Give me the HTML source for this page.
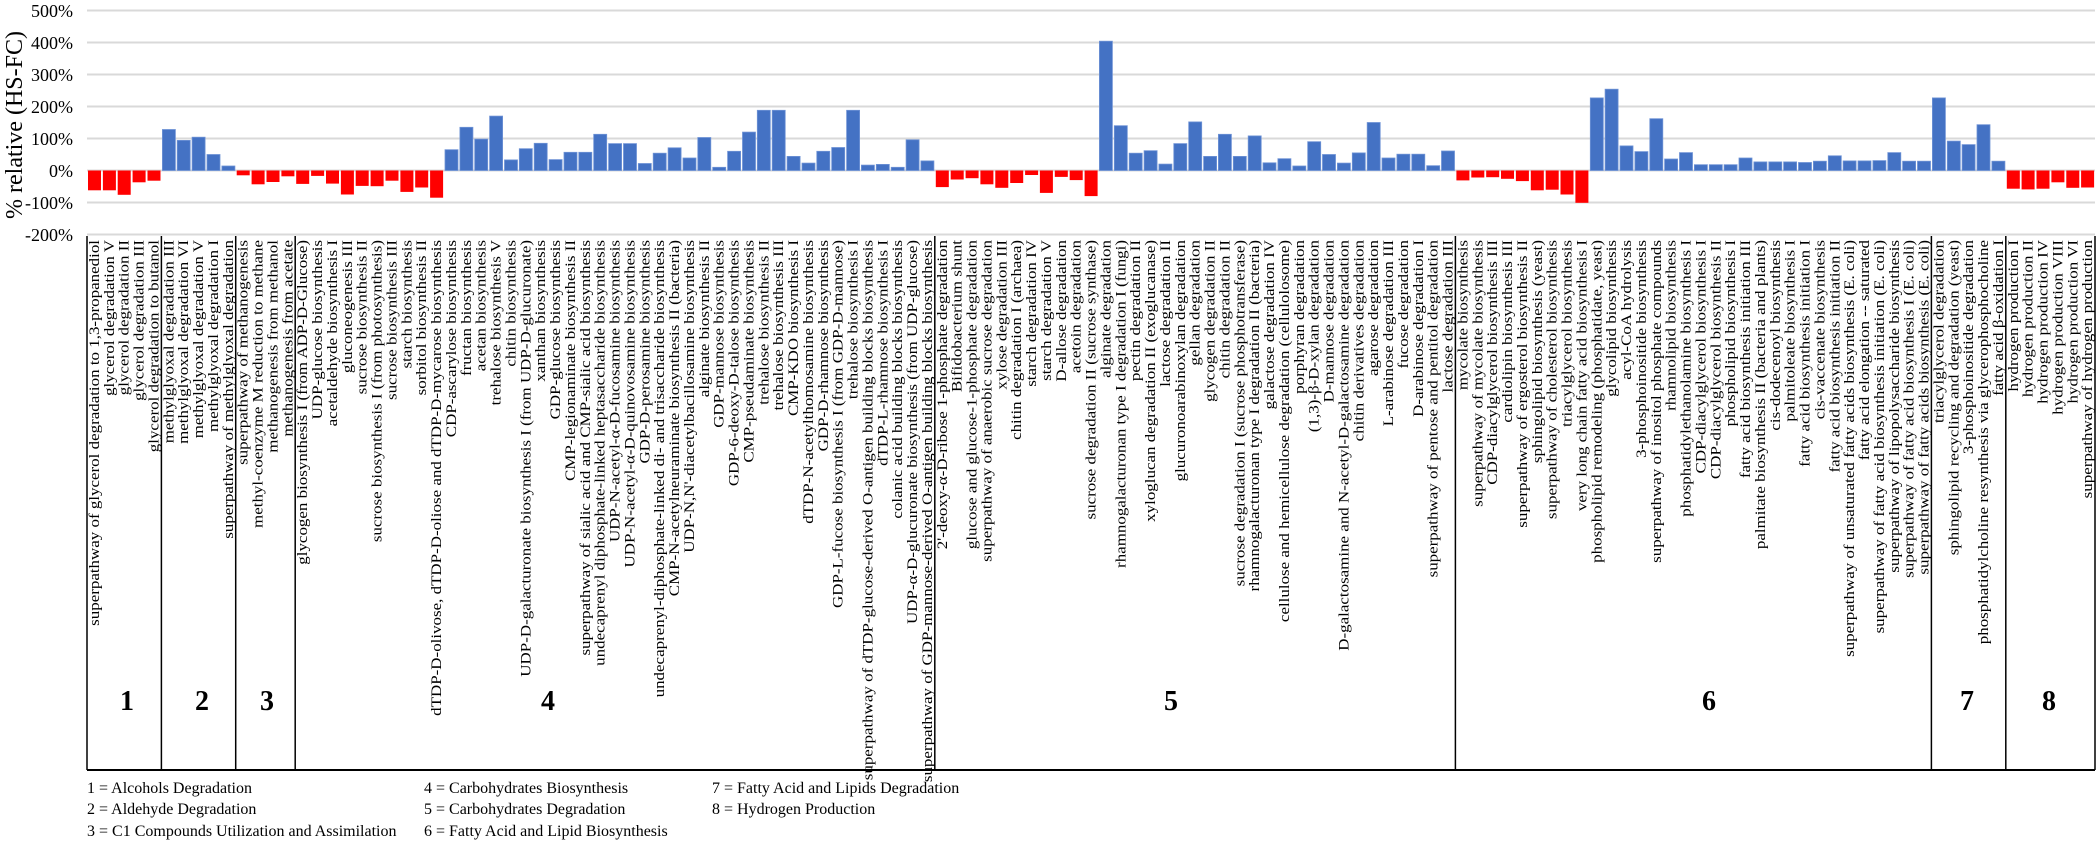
<!DOCTYPE html>
<html><head><meta charset="utf-8"><style>
html,body{margin:0;padding:0;background:#fff;}
svg{display:block;}
text{font-family:"Liberation Serif",serif;fill:#000;}
.l{font-size:15px;}
.b{fill:#4472c4;stroke:#6f93d6;stroke-width:0.8;}
.r{fill:#ff0000;}
</style></head><body>
<svg width="2100" height="842" viewBox="0 0 2100 842" xmlns="http://www.w3.org/2000/svg">
<g stroke="#d9d9d9" stroke-width="2">
<line x1="87" y1="10.5" x2="2095" y2="10.5"/><line x1="87" y1="42.5" x2="2095" y2="42.5"/><line x1="87" y1="74.5" x2="2095" y2="74.5"/><line x1="87" y1="106.5" x2="2095" y2="106.5"/><line x1="87" y1="138.5" x2="2095" y2="138.5"/><line x1="87" y1="170.5" x2="2095" y2="170.5"/><line x1="87" y1="202.5" x2="2095" y2="202.5"/><line x1="87" y1="234.5" x2="2095" y2="234.5"/>
</g>
<g font-size="18" text-anchor="end">
<text x="73" y="17">500%</text><text x="73" y="49">400%</text><text x="73" y="81">300%</text><text x="73" y="113">200%</text><text x="73" y="145">100%</text><text x="73" y="177">0%</text><text x="73" y="209">-100%</text><text x="73" y="241">-200%</text>
</g>
<text transform="translate(22,125) rotate(-90)" font-size="24" text-anchor="middle">% relative (HS-FC)</text>
<g>
<rect class="r" x="88" y="170.5" width="13" height="19.8"/>
<rect class="r" x="102.9" y="170.5" width="13" height="19.8"/>
<rect class="r" x="117.7" y="170.5" width="13" height="24.3"/>
<rect class="r" x="132.6" y="170.5" width="13" height="11.8"/>
<rect class="r" x="147.5" y="170.5" width="13" height="10.2"/>
<rect class="b" x="162.4" y="129.5" width="13" height="41"/>
<rect class="b" x="177.2" y="140.4" width="13" height="30.1"/>
<rect class="b" x="192.1" y="137.2" width="13" height="33.3"/>
<rect class="b" x="207" y="154.5" width="13" height="16"/>
<rect class="b" x="221.9" y="166" width="13" height="4.5"/>
<rect class="r" x="236.7" y="170.5" width="13" height="4.8"/>
<rect class="r" x="251.6" y="170.5" width="13" height="13.8"/>
<rect class="r" x="266.5" y="170.5" width="13" height="11.5"/>
<rect class="r" x="281.4" y="170.5" width="13" height="5.8"/>
<rect class="r" x="296.2" y="170.5" width="13" height="13.4"/>
<rect class="r" x="311.1" y="170.5" width="13" height="5.4"/>
<rect class="r" x="326" y="170.5" width="13" height="13.1"/>
<rect class="r" x="340.9" y="170.5" width="13" height="24"/>
<rect class="r" x="355.7" y="170.5" width="13" height="15.4"/>
<rect class="r" x="370.6" y="170.5" width="13" height="15.7"/>
<rect class="r" x="385.5" y="170.5" width="13" height="10.2"/>
<rect class="r" x="400.4" y="170.5" width="13" height="21.4"/>
<rect class="r" x="415.2" y="170.5" width="13" height="17"/>
<rect class="r" x="430.1" y="170.5" width="13" height="27.2"/>
<rect class="b" x="445" y="149.7" width="13" height="20.8"/>
<rect class="b" x="459.9" y="127.3" width="13" height="43.2"/>
<rect class="b" x="474.7" y="139.1" width="13" height="31.4"/>
<rect class="b" x="489.6" y="116.1" width="13" height="54.4"/>
<rect class="b" x="504.5" y="159.9" width="13" height="10.6"/>
<rect class="b" x="519.3" y="148.7" width="13" height="21.8"/>
<rect class="b" x="534.2" y="143.3" width="13" height="27.2"/>
<rect class="b" x="549.1" y="159.6" width="13" height="10.9"/>
<rect class="b" x="564" y="152.3" width="13" height="18.2"/>
<rect class="b" x="578.8" y="152.3" width="13" height="18.2"/>
<rect class="b" x="593.7" y="134.3" width="13" height="36.2"/>
<rect class="b" x="608.6" y="143.6" width="13" height="26.9"/>
<rect class="b" x="623.5" y="143.6" width="13" height="26.9"/>
<rect class="b" x="638.3" y="163.5" width="13" height="7"/>
<rect class="b" x="653.2" y="153.2" width="13" height="17.3"/>
<rect class="b" x="668.1" y="147.8" width="13" height="22.7"/>
<rect class="b" x="683" y="158" width="13" height="12.5"/>
<rect class="b" x="697.8" y="137.5" width="13" height="33"/>
<rect class="b" x="712.7" y="167.3" width="13" height="3.2"/>
<rect class="b" x="727.6" y="151.3" width="13" height="19.2"/>
<rect class="b" x="742.5" y="132.1" width="13" height="38.4"/>
<rect class="b" x="757.3" y="110.3" width="13" height="60.2"/>
<rect class="b" x="772.2" y="110.3" width="13" height="60.2"/>
<rect class="b" x="787.1" y="156.4" width="13" height="14.1"/>
<rect class="b" x="802" y="163.1" width="13" height="7.4"/>
<rect class="b" x="816.8" y="151.3" width="13" height="19.2"/>
<rect class="b" x="831.7" y="147.5" width="13" height="23"/>
<rect class="b" x="846.6" y="110.3" width="13" height="60.2"/>
<rect class="b" x="861.4" y="165.1" width="13" height="5.4"/>
<rect class="b" x="876.3" y="164.4" width="13" height="6.1"/>
<rect class="b" x="891.2" y="167.3" width="13" height="3.2"/>
<rect class="b" x="906.1" y="139.8" width="13" height="30.7"/>
<rect class="b" x="920.9" y="160.9" width="13" height="9.6"/>
<rect class="r" x="935.8" y="170.5" width="13" height="16.6"/>
<rect class="r" x="950.7" y="170.5" width="13" height="9"/>
<rect class="r" x="965.6" y="170.5" width="13" height="7.7"/>
<rect class="r" x="980.4" y="170.5" width="13" height="13.8"/>
<rect class="r" x="995.3" y="170.5" width="13" height="17.3"/>
<rect class="r" x="1010.2" y="170.5" width="13" height="12.5"/>
<rect class="r" x="1025.1" y="170.5" width="13" height="4.5"/>
<rect class="r" x="1039.9" y="170.5" width="13" height="22.4"/>
<rect class="r" x="1054.8" y="170.5" width="13" height="6.4"/>
<rect class="r" x="1069.7" y="170.5" width="13" height="9.6"/>
<rect class="r" x="1084.6" y="170.5" width="13" height="25.6"/>
<rect class="b" x="1099.4" y="41.2" width="13" height="129.3"/>
<rect class="b" x="1114.3" y="125.7" width="13" height="44.8"/>
<rect class="b" x="1129.2" y="153.2" width="13" height="17.3"/>
<rect class="b" x="1144.1" y="150.7" width="13" height="19.8"/>
<rect class="b" x="1158.9" y="164.1" width="13" height="6.4"/>
<rect class="b" x="1173.8" y="143.6" width="13" height="26.9"/>
<rect class="b" x="1188.7" y="121.9" width="13" height="48.6"/>
<rect class="b" x="1203.6" y="156.4" width="13" height="14.1"/>
<rect class="b" x="1218.4" y="134.3" width="13" height="36.2"/>
<rect class="b" x="1233.3" y="156.4" width="13" height="14.1"/>
<rect class="b" x="1248.2" y="135.9" width="13" height="34.6"/>
<rect class="b" x="1263" y="162.8" width="13" height="7.7"/>
<rect class="b" x="1277.9" y="158.7" width="13" height="11.8"/>
<rect class="b" x="1292.8" y="166" width="13" height="4.5"/>
<rect class="b" x="1307.7" y="141.7" width="13" height="28.8"/>
<rect class="b" x="1322.5" y="154.5" width="13" height="16"/>
<rect class="b" x="1337.4" y="163.1" width="13" height="7.4"/>
<rect class="b" x="1352.3" y="152.9" width="13" height="17.6"/>
<rect class="b" x="1367.2" y="122.5" width="13" height="48"/>
<rect class="b" x="1382" y="158" width="13" height="12.5"/>
<rect class="b" x="1396.9" y="154.2" width="13" height="16.3"/>
<rect class="b" x="1411.8" y="154.2" width="13" height="16.3"/>
<rect class="b" x="1426.7" y="165.7" width="13" height="4.8"/>
<rect class="b" x="1441.5" y="151" width="13" height="19.5"/>
<rect class="r" x="1456.4" y="170.5" width="13" height="9.9"/>
<rect class="r" x="1471.3" y="170.5" width="13" height="7"/>
<rect class="r" x="1486.2" y="170.5" width="13" height="6.7"/>
<rect class="r" x="1501" y="170.5" width="13" height="8.3"/>
<rect class="r" x="1515.9" y="170.5" width="13" height="10.6"/>
<rect class="r" x="1530.8" y="170.5" width="13" height="19.8"/>
<rect class="r" x="1545.7" y="170.5" width="13" height="19.2"/>
<rect class="r" x="1560.5" y="170.5" width="13" height="24"/>
<rect class="r" x="1575.4" y="170.5" width="13" height="32.3"/>
<rect class="b" x="1590.3" y="97.9" width="13" height="72.6"/>
<rect class="b" x="1605.1" y="89.2" width="13" height="81.3"/>
<rect class="b" x="1620" y="145.9" width="13" height="24.6"/>
<rect class="b" x="1634.9" y="151.6" width="13" height="18.9"/>
<rect class="b" x="1649.8" y="118.7" width="13" height="51.8"/>
<rect class="b" x="1664.6" y="159" width="13" height="11.5"/>
<rect class="b" x="1679.5" y="152.6" width="13" height="17.9"/>
<rect class="b" x="1694.4" y="164.7" width="13" height="5.8"/>
<rect class="b" x="1709.3" y="164.7" width="13" height="5.8"/>
<rect class="b" x="1724.1" y="164.7" width="13" height="5.8"/>
<rect class="b" x="1739" y="158" width="13" height="12.5"/>
<rect class="b" x="1753.9" y="161.9" width="13" height="8.6"/>
<rect class="b" x="1768.8" y="161.9" width="13" height="8.6"/>
<rect class="b" x="1783.6" y="161.9" width="13" height="8.6"/>
<rect class="b" x="1798.5" y="162.5" width="13" height="8"/>
<rect class="b" x="1813.4" y="161.2" width="13" height="9.3"/>
<rect class="b" x="1828.3" y="155.8" width="13" height="14.7"/>
<rect class="b" x="1843.1" y="160.9" width="13" height="9.6"/>
<rect class="b" x="1858" y="160.9" width="13" height="9.6"/>
<rect class="b" x="1872.9" y="160.6" width="13" height="9.9"/>
<rect class="b" x="1887.8" y="152.6" width="13" height="17.9"/>
<rect class="b" x="1902.6" y="161.2" width="13" height="9.3"/>
<rect class="b" x="1917.5" y="161.2" width="13" height="9.3"/>
<rect class="b" x="1932.4" y="97.9" width="13" height="72.6"/>
<rect class="b" x="1947.3" y="141.1" width="13" height="29.4"/>
<rect class="b" x="1962.1" y="144.6" width="13" height="25.9"/>
<rect class="b" x="1977" y="124.7" width="13" height="45.8"/>
<rect class="b" x="1991.9" y="161.2" width="13" height="9.3"/>
<rect class="r" x="2006.8" y="170.5" width="13" height="18.2"/>
<rect class="r" x="2021.6" y="170.5" width="13" height="18.9"/>
<rect class="r" x="2036.5" y="170.5" width="13" height="18.2"/>
<rect class="r" x="2051.4" y="170.5" width="13" height="11.8"/>
<rect class="r" x="2066.3" y="170.5" width="13" height="17.3"/>
<rect class="r" x="2081.1" y="170.5" width="13" height="17"/>
</g>
<g stroke="#000" stroke-width="1.5">
<line x1="87" y1="236" x2="87" y2="770"/><line x1="161.4" y1="236" x2="161.4" y2="770"/><line x1="235.7" y1="236" x2="235.7" y2="770"/><line x1="295.2" y1="236" x2="295.2" y2="770"/><line x1="934.8" y1="236" x2="934.8" y2="770"/><line x1="1455.4" y1="236" x2="1455.4" y2="770"/><line x1="1931.4" y1="236" x2="1931.4" y2="770"/><line x1="2005.8" y1="236" x2="2005.8" y2="770"/><line x1="2095" y1="236" x2="2095" y2="770"/>
<line x1="87" y1="770" x2="2095" y2="770" stroke-width="2"/>
</g>
<g class="l" text-anchor="end">
<text transform="translate(99,240) rotate(-90) scale(1.13,1)">superpathway of glycerol degradation to 1,3-propanediol</text>
<text transform="translate(113.9,240) rotate(-90) scale(1.13,1)">glycerol degradation V</text>
<text transform="translate(128.7,240) rotate(-90) scale(1.13,1)">glycerol degradation II</text>
<text transform="translate(143.6,240) rotate(-90) scale(1.13,1)">glycerol degradation III</text>
<text transform="translate(158.5,240) rotate(-90) scale(1.13,1)">glycerol degradation to butanol</text>
<text transform="translate(173.4,240) rotate(-90) scale(1.13,1)">methylglyoxal degradation III</text>
<text transform="translate(188.2,240) rotate(-90) scale(1.13,1)">methylglyoxal degradation VI</text>
<text transform="translate(203.1,240) rotate(-90) scale(1.13,1)">methylglyoxal degradation V</text>
<text transform="translate(218,240) rotate(-90) scale(1.13,1)">methylglyoxal degradation I</text>
<text transform="translate(232.9,240) rotate(-90) scale(1.13,1)">superpathway of methylglyoxal degradation</text>
<text transform="translate(247.7,240) rotate(-90) scale(1.13,1)">superpathway of methanogenesis</text>
<text transform="translate(262.6,240) rotate(-90) scale(1.13,1)">methyl-coenzyme M reduction to methane</text>
<text transform="translate(277.5,240) rotate(-90) scale(1.13,1)">methanogenesis from methanol</text>
<text transform="translate(292.4,240) rotate(-90) scale(1.13,1)">methanogenesis from acetate</text>
<text transform="translate(307.2,240) rotate(-90) scale(1.13,1)">glycogen biosynthesis I (from ADP-D-Glucose)</text>
<text transform="translate(322.1,240) rotate(-90) scale(1.13,1)">UDP-glucose biosynthesis</text>
<text transform="translate(337,240) rotate(-90) scale(1.13,1)">acetaldehyde biosynthesis I</text>
<text transform="translate(351.9,240) rotate(-90) scale(1.13,1)">gluconeogenesis III</text>
<text transform="translate(366.7,240) rotate(-90) scale(1.13,1)">sucrose biosynthesis II</text>
<text transform="translate(381.6,240) rotate(-90) scale(1.13,1)">sucrose biosynthesis I (from photosynthesis)</text>
<text transform="translate(396.5,240) rotate(-90) scale(1.13,1)">sucrose biosynthesis III</text>
<text transform="translate(411.4,240) rotate(-90) scale(1.13,1)">starch biosynthesis</text>
<text transform="translate(426.2,240) rotate(-90) scale(1.13,1)">sorbitol biosynthesis II</text>
<text transform="translate(441.1,240) rotate(-90) scale(1.13,1)">dTDP-D-olivose, dTDP-D-oliose and dTDP-D-mycarose biosynthesis</text>
<text transform="translate(456,240) rotate(-90) scale(1.13,1)">CDP-ascarylose biosynthesis</text>
<text transform="translate(470.9,240) rotate(-90) scale(1.13,1)">fructan biosynthesis</text>
<text transform="translate(485.7,240) rotate(-90) scale(1.13,1)">acetan biosynthesis</text>
<text transform="translate(500.6,240) rotate(-90) scale(1.13,1)">trehalose biosynthesis V</text>
<text transform="translate(515.5,240) rotate(-90) scale(1.13,1)">chitin biosynthesis</text>
<text transform="translate(530.3,240) rotate(-90) scale(1.13,1)">UDP-D-galacturonate biosynthesis I (from UDP-D-glucuronate)</text>
<text transform="translate(545.2,240) rotate(-90) scale(1.13,1)">xanthan biosynthesis</text>
<text transform="translate(560.1,240) rotate(-90) scale(1.13,1)">GDP-glucose biosynthesis</text>
<text transform="translate(575,240) rotate(-90) scale(1.13,1)">CMP-legionaminate biosynthesis II</text>
<text transform="translate(589.8,240) rotate(-90) scale(1.13,1)">superpathway of sialic acid and CMP-sialic acid biosynthesis</text>
<text transform="translate(604.7,240) rotate(-90) scale(1.13,1)">undecaprenyl diphosphate-linked heptasaccharide biosynthesis</text>
<text transform="translate(619.6,240) rotate(-90) scale(1.13,1)">UDP-N-acetyl-α-D-fucosamine biosynthesis</text>
<text transform="translate(634.5,240) rotate(-90) scale(1.13,1)">UDP-N-acetyl-α-D-quinovosamine biosynthesis</text>
<text transform="translate(649.3,240) rotate(-90) scale(1.13,1)">GDP-D-perosamine biosynthesis</text>
<text transform="translate(664.2,240) rotate(-90) scale(1.13,1)">undecaprenyl-diphosphate-linked di- and trisaccharide biosynthesis</text>
<text transform="translate(679.1,240) rotate(-90) scale(1.13,1)">CMP-N-acetylneuraminate biosynthesis II (bacteria)</text>
<text transform="translate(694,240) rotate(-90) scale(1.13,1)">UDP-N,N'-diacetylbacillosamine biosynthesis</text>
<text transform="translate(708.8,240) rotate(-90) scale(1.13,1)">alginate biosynthesis II</text>
<text transform="translate(723.7,240) rotate(-90) scale(1.13,1)">GDP-mannose biosynthesis</text>
<text transform="translate(738.6,240) rotate(-90) scale(1.13,1)">GDP-6-deoxy-D-talose biosynthesis</text>
<text transform="translate(753.5,240) rotate(-90) scale(1.13,1)">CMP-pseudaminate biosynthesis</text>
<text transform="translate(768.3,240) rotate(-90) scale(1.13,1)">trehalose biosynthesis II</text>
<text transform="translate(783.2,240) rotate(-90) scale(1.13,1)">trehalose biosynthesis III</text>
<text transform="translate(798.1,240) rotate(-90) scale(1.13,1)">CMP-KDO biosynthesis I</text>
<text transform="translate(813,240) rotate(-90) scale(1.13,1)">dTDP-N-acetylthomosamine biosynthesis</text>
<text transform="translate(827.8,240) rotate(-90) scale(1.13,1)">GDP-D-rhamnose biosynthesis</text>
<text transform="translate(842.7,240) rotate(-90) scale(1.13,1)">GDP-L-fucose biosynthesis I (from GDP-D-mannose)</text>
<text transform="translate(857.6,240) rotate(-90) scale(1.13,1)">trehalose biosynthesis I</text>
<text transform="translate(872.4,240) rotate(-90) scale(1.13,1)">superpathway of dTDP-glucose-derived O-antigen building blocks biosynthesis</text>
<text transform="translate(887.3,240) rotate(-90) scale(1.13,1)">dTDP-L-rhamnose biosynthesis I</text>
<text transform="translate(902.2,240) rotate(-90) scale(1.13,1)">colanic acid building blocks biosynthesis</text>
<text transform="translate(917.1,240) rotate(-90) scale(1.13,1)">UDP-α-D-glucuronate biosynthesis (from UDP-glucose)</text>
<text transform="translate(931.9,240) rotate(-90) scale(1.13,1)">superpathway of GDP-mannose-derived O-antigen building blocks biosynthesis</text>
<text transform="translate(946.8,240) rotate(-90) scale(1.13,1)">2'-deoxy-α-D-ribose 1-phosphate degradation</text>
<text transform="translate(961.7,240) rotate(-90) scale(1.13,1)">Bifidobacterium shunt</text>
<text transform="translate(976.6,240) rotate(-90) scale(1.13,1)">glucose and glucose-1-phosphate degradation</text>
<text transform="translate(991.4,240) rotate(-90) scale(1.13,1)">superpathway of anaerobic sucrose degradation</text>
<text transform="translate(1006.3,240) rotate(-90) scale(1.13,1)">xylose degradation III</text>
<text transform="translate(1021.2,240) rotate(-90) scale(1.13,1)">chitin degradation I (archaea)</text>
<text transform="translate(1036.1,240) rotate(-90) scale(1.13,1)">starch degradation IV</text>
<text transform="translate(1050.9,240) rotate(-90) scale(1.13,1)">starch degradation V</text>
<text transform="translate(1065.8,240) rotate(-90) scale(1.13,1)">D-allose degradation</text>
<text transform="translate(1080.7,240) rotate(-90) scale(1.13,1)">acetoin degradation</text>
<text transform="translate(1095.6,240) rotate(-90) scale(1.13,1)">sucrose degradation II (sucrose synthase)</text>
<text transform="translate(1110.4,240) rotate(-90) scale(1.13,1)">alginate degradation</text>
<text transform="translate(1125.3,240) rotate(-90) scale(1.13,1)">rhamnogalacturonan type I degradation I (fungi)</text>
<text transform="translate(1140.2,240) rotate(-90) scale(1.13,1)">pectin degradation II</text>
<text transform="translate(1155.1,240) rotate(-90) scale(1.13,1)">xyloglucan degradation II (exoglucanase)</text>
<text transform="translate(1169.9,240) rotate(-90) scale(1.13,1)">lactose degradation II</text>
<text transform="translate(1184.8,240) rotate(-90) scale(1.13,1)">glucuronoarabinoxylan degradation</text>
<text transform="translate(1199.7,240) rotate(-90) scale(1.13,1)">gellan degradation</text>
<text transform="translate(1214.6,240) rotate(-90) scale(1.13,1)">glycogen degradation II</text>
<text transform="translate(1229.4,240) rotate(-90) scale(1.13,1)">chitin degradation II</text>
<text transform="translate(1244.3,240) rotate(-90) scale(1.13,1)">sucrose degradation I (sucrose phosphotransferase)</text>
<text transform="translate(1259.2,240) rotate(-90) scale(1.13,1)">rhamnogalacturonan type I degradation II (bacteria)</text>
<text transform="translate(1274,240) rotate(-90) scale(1.13,1)">galactose degradation IV</text>
<text transform="translate(1288.9,240) rotate(-90) scale(1.13,1)">cellulose and hemicellulose degradation (cellulolosome)</text>
<text transform="translate(1303.8,240) rotate(-90) scale(1.13,1)">porphyran degradation</text>
<text transform="translate(1318.7,240) rotate(-90) scale(1.13,1)">(1,3)-β-D-xylan degradation</text>
<text transform="translate(1333.5,240) rotate(-90) scale(1.13,1)">D-mannose degradation</text>
<text transform="translate(1348.4,240) rotate(-90) scale(1.13,1)">D-galactosamine and N-acetyl-D-galactosamine degradation</text>
<text transform="translate(1363.3,240) rotate(-90) scale(1.13,1)">chitin derivatives degradation</text>
<text transform="translate(1378.2,240) rotate(-90) scale(1.13,1)">agarose degradation</text>
<text transform="translate(1393,240) rotate(-90) scale(1.13,1)">L-arabinose degradation III</text>
<text transform="translate(1407.9,240) rotate(-90) scale(1.13,1)">fucose degradation</text>
<text transform="translate(1422.8,240) rotate(-90) scale(1.13,1)">D-arabinose degradation I</text>
<text transform="translate(1437.7,240) rotate(-90) scale(1.13,1)">superpathway of pentose and pentitol degradation</text>
<text transform="translate(1452.5,240) rotate(-90) scale(1.13,1)">lactose degradation III</text>
<text transform="translate(1467.4,240) rotate(-90) scale(1.13,1)">mycolate biosynthesis</text>
<text transform="translate(1482.3,240) rotate(-90) scale(1.13,1)">superpathway of mycolate biosynthesis</text>
<text transform="translate(1497.2,240) rotate(-90) scale(1.13,1)">CDP-diacylglycerol biosynthesis III</text>
<text transform="translate(1512,240) rotate(-90) scale(1.13,1)">cardiolipin biosynthesis III</text>
<text transform="translate(1526.9,240) rotate(-90) scale(1.13,1)">superpathway of ergosterol biosynthesis II</text>
<text transform="translate(1541.8,240) rotate(-90) scale(1.13,1)">sphingolipid biosynthesis (yeast)</text>
<text transform="translate(1556.7,240) rotate(-90) scale(1.13,1)">superpathway of cholesterol biosynthesis</text>
<text transform="translate(1571.5,240) rotate(-90) scale(1.13,1)">triacylglycerol biosynthesis</text>
<text transform="translate(1586.4,240) rotate(-90) scale(1.13,1)">very long chain fatty acid biosynthesis I</text>
<text transform="translate(1601.3,240) rotate(-90) scale(1.13,1)">phospholipid remodeling (phosphatidate, yeast)</text>
<text transform="translate(1616.1,240) rotate(-90) scale(1.13,1)">glycolipid biosynthesis</text>
<text transform="translate(1631,240) rotate(-90) scale(1.13,1)">acyl-CoA hydrolysis</text>
<text transform="translate(1645.9,240) rotate(-90) scale(1.13,1)">3-phosphoinositide biosynthesis</text>
<text transform="translate(1660.8,240) rotate(-90) scale(1.13,1)">superpathway of inositol phosphate compounds</text>
<text transform="translate(1675.6,240) rotate(-90) scale(1.13,1)">rhamnolipid biosynthesis</text>
<text transform="translate(1690.5,240) rotate(-90) scale(1.13,1)">phosphatidylethanolamine biosynthesis I</text>
<text transform="translate(1705.4,240) rotate(-90) scale(1.13,1)">CDP-diacylglycerol biosynthesis I</text>
<text transform="translate(1720.3,240) rotate(-90) scale(1.13,1)">CDP-diacylglycerol biosynthesis II</text>
<text transform="translate(1735.1,240) rotate(-90) scale(1.13,1)">phospholipid biosynthesis I</text>
<text transform="translate(1750,240) rotate(-90) scale(1.13,1)">fatty acid biosynthesis initiation III</text>
<text transform="translate(1764.9,240) rotate(-90) scale(1.13,1)">palmitate biosynthesis II (bacteria and plants)</text>
<text transform="translate(1779.8,240) rotate(-90) scale(1.13,1)">cis-dodecenoyl biosynthesis</text>
<text transform="translate(1794.6,240) rotate(-90) scale(1.13,1)">palmitoleate biosynthesis I</text>
<text transform="translate(1809.5,240) rotate(-90) scale(1.13,1)">fatty acid biosynthesis initiation I</text>
<text transform="translate(1824.4,240) rotate(-90) scale(1.13,1)">cis-vaccenate biosynthesis</text>
<text transform="translate(1839.3,240) rotate(-90) scale(1.13,1)">fatty acid biosynthesis initiation II</text>
<text transform="translate(1854.1,240) rotate(-90) scale(1.13,1)">superpathway of unsaturated fatty acids biosynthesis (E. coli)</text>
<text transform="translate(1869,240) rotate(-90) scale(1.13,1)">fatty acid elongation -- saturated</text>
<text transform="translate(1883.9,240) rotate(-90) scale(1.13,1)">superpathway of fatty acid biosynthesis initiation (E. coli)</text>
<text transform="translate(1898.8,240) rotate(-90) scale(1.13,1)">superpathway of lipopolysaccharide biosynthesis</text>
<text transform="translate(1913.6,240) rotate(-90) scale(1.13,1)">superpathway of fatty acid biosynthesis I (E. coli)</text>
<text transform="translate(1928.5,240) rotate(-90) scale(1.13,1)">superpathway of fatty acids biosynthesis (E. coli)</text>
<text transform="translate(1943.4,240) rotate(-90) scale(1.13,1)">triacylglycerol degradation</text>
<text transform="translate(1958.3,240) rotate(-90) scale(1.13,1)">sphingolipid recycling and degradation (yeast)</text>
<text transform="translate(1973.1,240) rotate(-90) scale(1.13,1)">3-phosphoinositide degradation</text>
<text transform="translate(1988,240) rotate(-90) scale(1.13,1)">phosphatidylcholine resynthesis via glycerophosphocholine</text>
<text transform="translate(2002.9,240) rotate(-90) scale(1.13,1)">fatty acid β-oxidation I</text>
<text transform="translate(2017.8,240) rotate(-90) scale(1.13,1)">hydrogen production I</text>
<text transform="translate(2032.6,240) rotate(-90) scale(1.13,1)">hydrogen production II</text>
<text transform="translate(2047.5,240) rotate(-90) scale(1.13,1)">hydrogen production IV</text>
<text transform="translate(2062.4,240) rotate(-90) scale(1.13,1)">hydrogen production VIII</text>
<text transform="translate(2077.3,240) rotate(-90) scale(1.13,1)">hydrogen production VI</text>
<text transform="translate(2092.1,240) rotate(-90) scale(1.13,1)">superpathway of hydrogen production</text>
</g>
<g font-size="28" font-weight="bold" text-anchor="middle">
<text x="127" y="710">1</text><text x="202" y="710">2</text><text x="267" y="710">3</text><text x="548" y="710">4</text><text x="1171" y="710">5</text><text x="1709" y="710">6</text><text x="1967" y="710">7</text><text x="2049" y="710">8</text>
</g>
<g font-size="16">
<text x="87" y="793">1 = Alcohols Degradation</text>
<text x="87" y="814">2 = Aldehyde Degradation</text>
<text x="87" y="836">3 = C1 Compounds Utilization and Assimilation</text>
<text x="424" y="793">4 = Carbohydrates Biosynthesis</text>
<text x="424" y="814">5 = Carbohydrates Degradation</text>
<text x="424" y="836">6 = Fatty Acid and Lipid Biosynthesis</text>
<text x="712" y="793">7 = Fatty Acid and Lipids Degradation</text>
<text x="712" y="814">8 = Hydrogen Production</text>
</g>
</svg>
</body></html>
